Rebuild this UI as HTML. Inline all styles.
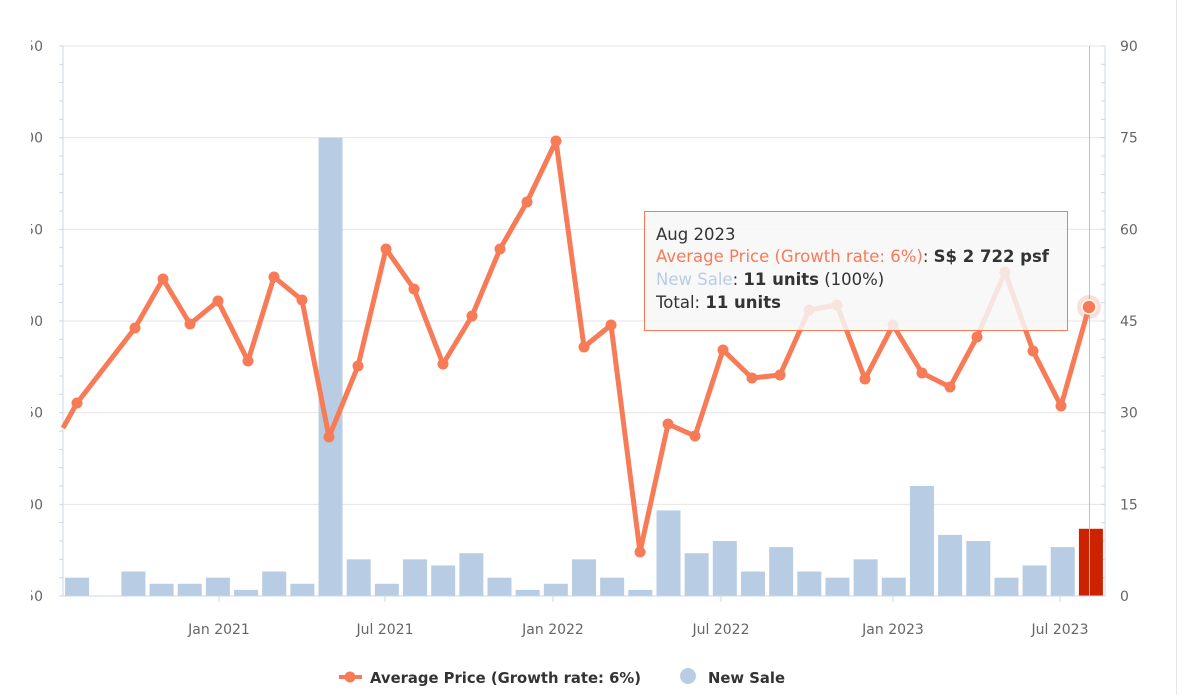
<!DOCTYPE html>
<html><head><meta charset="utf-8"><style>
body{margin:0;background:#fff;width:1191px;height:695px;overflow:hidden;font-family:"DejaVu Sans",sans-serif}
</style></head><body>
<svg id="s" width="1191" height="695" xmlns="http://www.w3.org/2000/svg" font-family="DejaVu Sans, sans-serif"></svg>
<script>
(function(){
const s=document.getElementById('s');let h='';
h+='<line x1="1176.5" y1="0" x2="1176.5" y2="695" stroke="#e6e6e6"/>';
const T=46,B=596,L=63,R=1105;
const yv=v=>B-550*v/90;
[0,15,30,45,60,75,90].forEach((v,i)=>{const y=yv(v);
 if(v>0)h+=`<line x1="${L}" y1="${y}" x2="${R}" y2="${y}" stroke="#e6e6e6"/>`;
 h+=`<text x="1120" y="${y+5}" font-size="14" fill="#666">${v}</text>`;
 h+=`<text x="43" y="${y+5}" font-size="14" fill="#666" text-anchor="end">${['50','00','50','00','50','00','50'][6-i]}</text>`;
});
h+=`<rect x="0" y="0" width="31" height="640" fill="#fff"/>`;
for(let k=0;k<=30;k++){const y=T+k*550/30;
 h+=`<line x1="59" y1="${y}" x2="${L}" y2="${y}" stroke="#ccd6eb"/>`;
 h+=`<line x1="${R}" y1="${y}" x2="${R-4}" y2="${y}" stroke="#ccd6eb"/>`;}
h+=`<line x1="${L}" y1="${T}" x2="${L}" y2="${B}" stroke="#ccd6eb"/>`;
h+=`<line x1="${R}" y1="${T}" x2="${R}" y2="${B}" stroke="#ccd6eb"/>`;
const b=[3,0,4,2,2,3,1,4,2,75,6,2,6,5,7,3,1,2,6,3,1,14,7,9,4,8,4,3,6,3,18,10,9,3,5,8,11];
const sw=(R-L)/37;
b.forEach((v,i)=>{const cx=L+sw*(i+0.5);const y=yv(v);
 h+=`<rect x="${cx-12}" y="${y}" width="24" height="${B-y}" fill="${i==36?'#cc2200':'#b8cce4'}"/>`;});
h+=`<line x1="1089.5" y1="${T}" x2="1089.5" y2="${B}" stroke="#c0c0c0"/>`;
[[219,'Jan 2021'],[385,'Jul 2021'],[553,'Jan 2022'],[721,'Jul 2022'],[893,'Jan 2023'],[1060,'Jul 2023']].forEach(([x,t])=>{
 h+=`<line x1="${x}" y1="${B}" x2="${x}" y2="${B+6}" stroke="#ccd6eb"/>`;
 h+=`<text x="${x}" y="634" font-size="14" fill="#666" text-anchor="middle">${t}</text>`;});
h+=`<line x1="${L}" y1="${B}" x2="${R}" y2="${B}" stroke="#ccd6eb"/>`;
const p=[[77,403],[135,328],[163,279],[190,324],[218,301],[248,361],[274,277],[302,300],[329,437],[358,366],[386,249],[414,289],[443,364],[472,316],[500,249],[527,202],[556,141],[584,347],[611,325],[640,552],[668,424],[695,436],[723,350],[752,378],[780,375],[809,310],[837,305],[865,379],[893,325],[922,373],[950,387],[977,337],[1005,272],[1033,351],[1061,406],[1089,307]];
h+=`<polyline points="63,428 ${p.map(q=>q.join(',')).join(' ')}" fill="none" stroke="#f77b57" stroke-width="5" stroke-linejoin="round"/>`;
p.forEach(q=>h+=`<circle cx="${q[0]}" cy="${q[1]}" r="5.5" fill="#f77b57"/>`);
h+=`<circle cx="1089" cy="307" r="12" fill="#f77b57" opacity="0.25"/><circle cx="1089" cy="307" r="7" fill="#f77b57" stroke="#fff" stroke-width="1.5"/>`;
h+=`<rect x="644.5" y="211.5" width="423" height="119" fill="rgba(247,247,247,0.85)" stroke="#f77b57"/>`;
h+=`<text x="656" y="240" font-size="16.5" fill="#333">Aug 2023</text>`;
h+=`<text x="656" y="262" font-size="16.5" fill="#333"><tspan fill="#f77b57">Average Price (Growth rate: 6%)</tspan>: <tspan font-weight="bold">S$ 2 722 psf</tspan></text>`;
h+=`<text x="656" y="285" font-size="16.5" fill="#333"><tspan fill="#b8cce4">New Sale</tspan>: <tspan font-weight="bold">11 units</tspan> (100%)</text>`;
h+=`<text x="656" y="308" font-size="16.5" fill="#333">Total: <tspan font-weight="bold">11 units</tspan></text>`;
h+=`<line x1="339" y1="677" x2="362" y2="677" stroke="#f77b57" stroke-width="4"/><circle cx="350" cy="677" r="5.5" fill="#f77b57"/>`;
h+=`<text x="370" y="683" font-size="14.8" font-weight="bold" fill="#333">Average Price (Growth rate: 6%)</text>`;
h+=`<circle cx="688" cy="676" r="8" fill="#b8cce4"/>`;
h+=`<text x="708" y="683" font-size="14.8" font-weight="bold" fill="#333">New Sale</text>`;
s.innerHTML=h;
})();
</script>
</body></html>
